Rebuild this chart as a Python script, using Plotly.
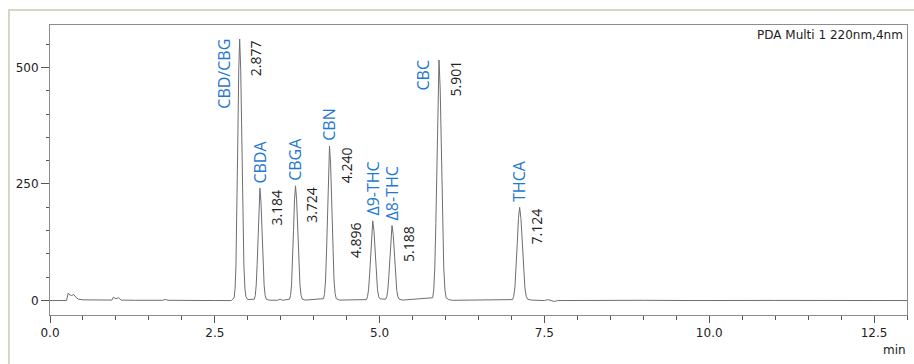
import plotly.graph_objects as go

# ---- data ----
time_min = [
    0.00, 0.25, 0.277, 0.30, 0.33, 0.36, 0.40, 0.43, 0.50, 0.80,
    0.94, 0.96, 1.00, 1.04, 1.08, 1.30, 1.71, 1.75, 1.79, 2.50, 2.75,
    2.793, 2.807, 2.821, 2.835, 2.849, 2.863, 2.877, 2.893, 2.909, 2.925, 2.941, 2.957, 2.973, 3.000,
    3.100, 3.114, 3.128, 3.142, 3.156, 3.170, 3.184, 3.200, 3.216, 3.232, 3.248, 3.264, 3.280, 3.320,
    3.450, 3.490, 3.530,
    3.634, 3.649, 3.664, 3.679, 3.694, 3.709, 3.724, 3.741, 3.758, 3.775, 3.792, 3.809, 3.826, 3.870,
    4.150, 4.165, 4.180, 4.195, 4.210, 4.225, 4.240, 4.257, 4.274, 4.291, 4.308, 4.325, 4.342, 4.390,
    4.800, 4.816, 4.832, 4.848, 4.864, 4.880, 4.896, 4.914, 4.932, 4.950, 4.968, 4.986, 5.004, 5.040,
    5.092, 5.108, 5.124, 5.140, 5.156, 5.172, 5.188, 5.206, 5.224, 5.242, 5.260, 5.278, 5.296, 5.350,
    5.805, 5.821, 5.837, 5.853, 5.869, 5.885, 5.901, 5.919, 5.937, 5.955, 5.973, 5.991, 6.009, 6.050, 6.100,
    7.016, 7.034, 7.052, 7.070, 7.088, 7.106, 7.124, 7.144, 7.164, 7.184, 7.204, 7.224, 7.244, 7.300,
    7.500, 7.550, 7.600, 7.650, 7.700, 8.200, 8.600, 9.000, 9.800, 10.200, 10.500, 11.000, 13.000,
]
signal_mau = [
    0, 0, 16, 12, 11, 13, 6, 3, 1.5, 0.8,
    1, 7, 4, 6, 1, 0.5, 0.5, 2.5, 0.5, 0, 0,
    6, 25, 76, 180, 342, 494, 561, 494, 342, 180, 76, 25, 8, 2,
    3, 11, 33, 77, 147, 212, 241, 212, 147, 77, 33, 11, 3, 1,
    0.5, 3, 0.5,
    3, 11, 33, 79, 150, 216, 246, 216, 150, 79, 33, 11, 3, 1,
    4, 15, 44, 106, 202, 291, 331, 291, 202, 106, 44, 15, 4, 1,
    2, 8, 23, 55, 104, 150, 171, 150, 104, 55, 23, 8, 4, 3,
    3, 8, 22, 52, 98, 142, 161, 142, 98, 52, 22, 8, 3, 1,
    6, 23, 70, 165, 315, 454, 516, 454, 315, 165, 70, 23, 6, 2, 0.5,
    2, 9, 27, 64, 122, 176, 200, 176, 122, 64, 27, 9, 3, 1,
    0, 2, 0, -2, 0, 0.5, -0.5, 0.5, 0, 0.5, -0.5, 0.3, 0,
]

peak_names = ["CBD/CBG", "CBDA", "CBGA", "CBN", "Δ9-THC", "Δ8-THC", "CBC", "THCA"]
peak_times = [2.877, 3.184, 3.724, 4.240, 4.896, 5.188, 5.901, 7.124]
peak_heights = [561, 241, 246, 331, 171, 161, 516, 200]
peak_rt_labels = ["2.877", "3.184", "3.724", "4.240", "4.896", "5.188", "5.901", "7.124"]

name_side = ["left", "top", "top", "top", "top", "top", "left", "top"]
rt_side = ["right", "right", "right", "right", "left", "right", "right", "right"]

x_tick_vals = [0.0, 2.5, 5.0, 7.5, 10.0, 12.5]
y_tick_vals = [0, 250, 500]

BLUE = "#1f78d1"
TEXT = "#222222"

fig = go.Figure()
fig.add_trace(go.Scatter(
    x=time_min, y=signal_mau, mode="lines",
    line=dict(color="#6e6e6e", width=1), hoverinfo="skip", showlegend=False,
))

annotations = []
for name, t, h, rt, ns, rs in zip(peak_names, peak_times, peak_heights,
                                   peak_rt_labels, name_side, rt_side):
    if ns == "left":
        annotations.append(dict(x=t, y=h, text=name, textangle=-90, showarrow=False,
                                xanchor="right", yanchor="top", xshift=-3, yshift=2,
                                font=dict(family="Open Sans", size=16, color=BLUE)))
    else:
        annotations.append(dict(x=t, y=h, text=name, textangle=-90, showarrow=False,
                                xanchor="center", yanchor="bottom", xshift=0, yshift=3,
                                font=dict(family="Open Sans", size=16, color=BLUE)))
    if rs == "right":
        annotations.append(dict(x=t, y=h, text=rt, textangle=-90, showarrow=False,
                                xanchor="left", yanchor="top", xshift=5, yshift=1,
                                font=dict(family="Open Sans", size=14, color=TEXT)))
    else:
        annotations.append(dict(x=t, y=h, text=rt, textangle=-90, showarrow=False,
                                xanchor="right", yanchor="top", xshift=-5, yshift=1,
                                font=dict(family="Open Sans", size=14, color=TEXT)))

annotations.append(dict(xref="paper", yref="paper", x=1, y=1, text="PDA Multi 1 220nm,4nm",
                        showarrow=False, xanchor="right", yanchor="top", xshift=-2, yshift=-1,
                        font=dict(family="DejaVu Sans", size=12, color=TEXT)))
annotations.append(dict(xref="paper", yref="paper", x=1, y=-0.12, text="min",
                        showarrow=False, xanchor="right", yanchor="middle", xshift=1,
                        font=dict(family="DejaVu Sans", size=12, color=TEXT)))

W, H = 914, 364
L, R, T, B = 50, 7, 25, 49
pw, ph = W - L - R, H - T - B


def px_to_paper_x(px):
    return (px - L) / pw


def px_to_paper_y(py):
    return (H - B - py) / ph


fig.update_layout(
    width=W, height=H,
    margin=dict(l=L, r=R, t=T, b=B),
    paper_bgcolor="white", plot_bgcolor="white",
    annotations=annotations,
    shapes=[dict(type="rect", xref="paper", yref="paper", layer="below",
                 x0=px_to_paper_x(9), x1=px_to_paper_x(930),
                 y0=px_to_paper_y(380), y1=px_to_paper_y(10),
                 line=dict(color="#d8d5c6", width=2), fillcolor="rgba(0,0,0,0)")],
    xaxis=dict(range=[0, 13], showgrid=False, zeroline=False,
               showline=True, mirror=True, linecolor="#8c8c8c", linewidth=1,
               ticks="outside", ticklen=7, tickcolor="#555555",
               tickvals=x_tick_vals, tickformat=".1f",
               minor=dict(dtick=0.5, ticks="outside", ticklen=4, tickcolor="#555555", showgrid=False),
               tickfont=dict(family="DejaVu Sans", size=12, color=TEXT)),
    yaxis=dict(range=[-31, 591], showgrid=False, zeroline=False,
               showline=True, mirror=True, linecolor="#8c8c8c", linewidth=1,
               ticks="outside", ticklen=8, tickcolor="#555555",
               tickvals=y_tick_vals,
               minor=dict(dtick=50, ticks="outside", ticklen=3, tickcolor="#555555", showgrid=False),
               tickfont=dict(family="DejaVu Sans", size=12, color=TEXT)),
)

fig.write_html("out.html", config={"displayModeBar": False},
               post_script="document.body.style.margin='0';document.body.style.overflow='hidden';")
